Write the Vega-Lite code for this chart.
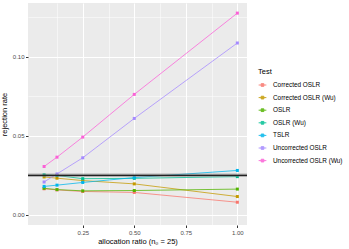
{
  "$schema": "https://vega.github.io/schema/vega-lite/v6.json",
  "autosize": {"type": "none"},
  "width": 219,
  "height": 222,
  "padding": {"left": 28, "top": 3, "right": 102, "bottom": 24},
  "background": "white",
  "config": {
    "font": "Liberation Sans",
    "view": {"fill": "#EBEBEB", "stroke": null},
    "axis": {
      "domain": false,
      "gridColor": "white",
      "tickColor": "#333333",
      "tickSize": 2.5,
      "labelColor": "#4D4D4D",
      "labelFontSize": 6,
      "labelPadding": 1.5,
      "titleFontSize": 7.5,
      "titleFontWeight": "normal",
      "titleColor": "black"
    },
    "legend": {
      "titleFontSize": 7.5,
      "titleFontWeight": "normal",
      "titleColor": "black",
      "labelFontSize": 6.4,
      "labelColor": "black"
    }
  },
  "datasets": {
    "rates": [
      {"test": "Corrected OSLR", "ratio": 0.0625, "rate": 0.0165},
      {"test": "Corrected OSLR", "ratio": 0.125, "rate": 0.0158},
      {"test": "Corrected OSLR", "ratio": 0.25, "rate": 0.0148},
      {"test": "Corrected OSLR", "ratio": 0.5, "rate": 0.0142},
      {"test": "Corrected OSLR", "ratio": 1.0, "rate": 0.0080},
      {"test": "Corrected OSLR (Wu)", "ratio": 0.0625, "rate": 0.0240},
      {"test": "Corrected OSLR (Wu)", "ratio": 0.125, "rate": 0.0232},
      {"test": "Corrected OSLR (Wu)", "ratio": 0.25, "rate": 0.0217},
      {"test": "Corrected OSLR (Wu)", "ratio": 0.5, "rate": 0.0196},
      {"test": "Corrected OSLR (Wu)", "ratio": 1.0, "rate": 0.0116},
      {"test": "OSLR", "ratio": 0.0625, "rate": 0.0168},
      {"test": "OSLR", "ratio": 0.125, "rate": 0.0160},
      {"test": "OSLR", "ratio": 0.25, "rate": 0.0152},
      {"test": "OSLR", "ratio": 0.5, "rate": 0.0154},
      {"test": "OSLR", "ratio": 1.0, "rate": 0.0163},
      {"test": "OSLR (Wu)", "ratio": 0.0625, "rate": 0.0253},
      {"test": "OSLR (Wu)", "ratio": 0.125, "rate": 0.0249},
      {"test": "OSLR (Wu)", "ratio": 0.25, "rate": 0.0229},
      {"test": "OSLR (Wu)", "ratio": 0.5, "rate": 0.0231},
      {"test": "OSLR (Wu)", "ratio": 1.0, "rate": 0.0242},
      {"test": "TSLR", "ratio": 0.0625, "rate": 0.0180},
      {"test": "TSLR", "ratio": 0.125, "rate": 0.0188},
      {"test": "TSLR", "ratio": 0.25, "rate": 0.0205},
      {"test": "TSLR", "ratio": 0.5, "rate": 0.0236},
      {"test": "TSLR", "ratio": 1.0, "rate": 0.0281},
      {"test": "Uncorrected OSLR", "ratio": 0.0625, "rate": 0.0208},
      {"test": "Uncorrected OSLR", "ratio": 0.125, "rate": 0.0259},
      {"test": "Uncorrected OSLR", "ratio": 0.25, "rate": 0.0361},
      {"test": "Uncorrected OSLR", "ratio": 0.5, "rate": 0.0610},
      {"test": "Uncorrected OSLR", "ratio": 1.0, "rate": 0.1087},
      {"test": "Uncorrected OSLR (Wu)", "ratio": 0.0625, "rate": 0.0306},
      {"test": "Uncorrected OSLR (Wu)", "ratio": 0.125, "rate": 0.0365},
      {"test": "Uncorrected OSLR (Wu)", "ratio": 0.25, "rate": 0.0492},
      {"test": "Uncorrected OSLR (Wu)", "ratio": 0.5, "rate": 0.0762},
      {"test": "Uncorrected OSLR (Wu)", "ratio": 1.0, "rate": 0.1276}
    ],
    "nominal": [{"alpha": 0.025}]
  },
  "layer": [
    {
      "data": {"name": "rates"},
      "mark": {"type": "line", "strokeWidth": 0.9, "opacity": 0.85},
      "encoding": {
        "x": {
          "field": "ratio",
          "type": "quantitative",
          "title": "allocation ratio (n₀ = 25)",
          "scale": {"domain": [-0.0156, 1.0469], "nice": false, "zero": false},
          "axis": {
            "values": [0.125, 0.25, 0.375, 0.5, 0.625, 0.75, 0.875, 1.0],
            "format": ".2f",
            "labelExpr": "indexof([0.25,0.5,0.75,1], datum.value) >= 0 ? datum.label : ''",
            "gridWidth": {"condition": {"test": "indexof([0.25,0.5,0.75,1], datum.value) >= 0", "value": 1}, "value": 0.5},
            "tickOpacity": {"condition": {"test": "indexof([0.25,0.5,0.75,1], datum.value) >= 0", "value": 1}, "value": 0},
            "titlePadding": 2
          }
        },
        "y": {
          "field": "rate",
          "type": "quantitative",
          "title": "rejection rate",
          "scale": {"domain": [-0.0064, 0.134], "nice": false, "zero": false},
          "axis": {
            "values": [0, 0.025, 0.05, 0.075, 0.1, 0.125],
            "format": ".2f",
            "labelExpr": "indexof([0,0.05,0.1], datum.value) >= 0 ? datum.label : ''",
            "gridWidth": {"condition": {"test": "indexof([0,0.05,0.1], datum.value) >= 0", "value": 1}, "value": 0.5},
            "tickOpacity": {"condition": {"test": "indexof([0,0.05,0.1], datum.value) >= 0", "value": 1}, "value": 0},
            "titlePadding": 4
          }
        },
        "color": {
          "field": "test",
          "type": "nominal",
          "title": "Test",
          "scale": {
            "domain": ["Corrected OSLR", "Corrected OSLR (Wu)", "OSLR", "OSLR (Wu)", "TSLR", "Uncorrected OSLR", "Uncorrected OSLR (Wu)"],
            "range": ["#F8766D", "#C49A00", "#53B400", "#00C094", "#00B6EB", "#A58AFF", "#FB61D7"]
          },
          "legend": {
            "orient": "none",
            "legendX": 230,
            "legendY": 65,
            "symbolType": "M-1,0L1,0M-0.35,-0.35L0.35,-0.35L0.35,0.35L-0.35,0.35Z",
            "symbolSize": 60,
            "symbolStrokeWidth": 1,
            "rowPadding": 4.6,
            "labelOffset": 6
          }
        }
      }
    },
    {
      "data": {"name": "rates"},
      "mark": {"type": "point", "filled": true, "shape": "square", "size": 9, "opacity": 1},
      "encoding": {
        "x": {
          "field": "ratio",
          "type": "quantitative",
          "title": "allocation ratio (n₀ = 25)",
          "scale": {"domain": [-0.0156, 1.0469], "nice": false, "zero": false},
          "axis": {
            "values": [0.125, 0.25, 0.375, 0.5, 0.625, 0.75, 0.875, 1.0],
            "format": ".2f",
            "labelExpr": "indexof([0.25,0.5,0.75,1], datum.value) >= 0 ? datum.label : ''",
            "gridWidth": {"condition": {"test": "indexof([0.25,0.5,0.75,1], datum.value) >= 0", "value": 1}, "value": 0.5},
            "tickOpacity": {"condition": {"test": "indexof([0.25,0.5,0.75,1], datum.value) >= 0", "value": 1}, "value": 0},
            "titlePadding": 2
          }
        },
        "y": {
          "field": "rate",
          "type": "quantitative",
          "title": "rejection rate",
          "scale": {"domain": [-0.0064, 0.134], "nice": false, "zero": false},
          "axis": {
            "values": [0, 0.025, 0.05, 0.075, 0.1, 0.125],
            "format": ".2f",
            "labelExpr": "indexof([0,0.05,0.1], datum.value) >= 0 ? datum.label : ''",
            "gridWidth": {"condition": {"test": "indexof([0,0.05,0.1], datum.value) >= 0", "value": 1}, "value": 0.5},
            "tickOpacity": {"condition": {"test": "indexof([0,0.05,0.1], datum.value) >= 0", "value": 1}, "value": 0},
            "titlePadding": 4
          }
        },
        "color": {"field": "test", "type": "nominal"}
      }
    },
    {
      "data": {"name": "nominal"},
      "mark": {"type": "rule", "color": "#777777", "strokeWidth": 3.5, "opacity": 0.5},
      "encoding": {"y": {"field": "alpha", "type": "quantitative"}}
    },
    {
      "data": {"name": "nominal"},
      "mark": {"type": "rule", "color": "#222222", "strokeWidth": 1.4},
      "encoding": {"y": {"field": "alpha", "type": "quantitative"}}
    }
  ]
}
